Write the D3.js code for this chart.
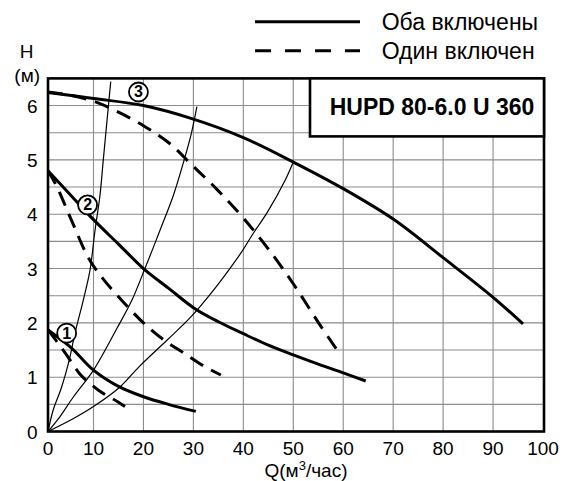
<!DOCTYPE html>
<html><head><meta charset="utf-8">
<script src="https://cdn.jsdelivr.net/npm/d3@7"></script>
<style>
html,body{margin:0;padding:0;background:#fff;}
svg{display:block;font-family:"Liberation Sans",Arial,Helvetica,sans-serif;}
</style></head>
<body><svg id="c" width="564" height="481"></svg>
<script>
// ---- data ----
const xTicks = [0,10,20,30,40,50,60,70,80,90,100];
const yTicks = [0,1,2,3,4,5,6];
const gridX = [10,20,30,40,50,60,70,80,90];
const gridY = [0.5,1,1.5,2,2.5,3,3.5,4,4.5,5,5.5,6];

// "Оба включены" (both pumps on) – solid
const bothQ1 = [0,5,10,15,20,25,30.5];
const bothH1 = [1.87,1.55,1.13,0.83,0.64,0.5,0.37];
const bothQ2 = [0,5,10,15,20,25,30,35,40,45,50,55,60,64.5];
const bothH2 = [4.8,4.35,3.9,3.45,3.0,2.64,2.28,2.02,1.80,1.59,1.41,1.24,1.08,0.93];
const bothQ3 = [0,10,20,30,40,50,60,70,80,90,96];
const bothH3 = [6.24,6.13,6.0,5.75,5.41,4.96,4.47,3.91,3.2,2.47,1.98];

// "Один включен" (one pump on) – dashed
const oneQ1 = [0,2,4,7,11,15,16.3];
const oneH1 = [1.87,1.65,1.42,1.06,0.76,0.54,0.46];
const oneQ2 = [0,2,5,9,12,16,20,24,28,32,35.5];
const oneH2 = [4.8,4.5,3.92,3.18,2.8,2.38,2.0,1.69,1.45,1.21,1.04];
const oneQ3 = [0,5,10,15,20,25,30,35,40,45,50,55,59];
const oneH3 = [6.25,6.19,6.08,5.88,5.63,5.32,4.88,4.43,3.93,3.36,2.72,2.01,1.47];

// system curves (thin)
const sysQA = [0,1.16,3.0,4.68,5.93,7.76,9.23,10.3,11.3,11.96,13.45];
const sysHA = [0,0.4,0.82,1.32,1.81,2.42,2.97,3.7,4.35,5.0,6.44];
const sysQB = [0,2.6,5.6,10,14.7,17.7,20.3,23.3,26,28,29.5,30.7];
const sysHB = [0,0.27,0.64,1.13,1.9,2.42,3.0,3.7,4.35,4.95,5.45,5.98];
const sysQC = [0,5.6,10,15.3,19.2,24.7,29.4,34,37.3,39.7,42,44.7,48.4,50];
const sysHC = [0,0.24,0.46,0.82,1.2,1.68,2.1,2.6,3.0,3.31,3.65,4.02,4.63,4.96];

const markLabels = ["1","2","3"];
const markQ = [4.1,8.7,19.0];
const markH = [1.81,4.17,6.25];

const titleText = "HUPD 80-6.0 U 360";
const legendLabels = ["Оба включены","Один включен"];
const yLabel = ["H","(м)"];

// ---- drawing ----
const svg = d3.select("#c");
const x = d3.scaleLinear().domain([0,10,100]).range([48,93.5,543]);
const y = d3.scaleLinear().domain([0,6.5]).range([431.5,78.4]);

const zip = (q,h)=>q.map((v,i)=>[v,h[i]]);
const line = d3.line().x(d=>x(d[0])).y(d=>y(d[1])).curve(d3.curveCatmullRom.alpha(0.5));

// grid
const gridPath = d3.path();
gridX.forEach(v=>{ gridPath.moveTo(x(v), y(0)); gridPath.lineTo(x(v), y(6.5)); });
gridY.forEach(v=>{ gridPath.moveTo(x(0), y(v)); gridPath.lineTo(x(100), y(v)); });
svg.append("path").attr("d", gridPath.toString())
  .attr("fill","none").attr("stroke","#8c8c8c").attr("stroke-width",1.1);

// system curves
[[sysQA,sysHA],[sysQB,sysHB],[sysQC,sysHC]].forEach(([q,h])=>{
  svg.append("path").attr("d",line(zip(q,h))).attr("fill","none")
    .attr("stroke","#000").attr("stroke-width",1.2);
});
// dashed curves
[[oneQ1,oneH1],[oneQ2,oneH2],[oneQ3,oneH3]].forEach(([q,h])=>{
  svg.append("path").attr("d",line(zip(q,h))).attr("fill","none")
    .attr("stroke","#000").attr("stroke-width",3).attr("stroke-dasharray","15,9");
});
// solid curves
[[bothQ1,bothH1],[bothQ2,bothH2],[bothQ3,bothH3]].forEach(([q,h])=>{
  svg.append("path").attr("d",line(zip(q,h))).attr("fill","none")
    .attr("stroke","#000").attr("stroke-width",3);
});

// frame
svg.append("rect").attr("x",x(0)).attr("y",y(6.5)).attr("width",x(100)+1-x(0)).attr("height",y(0)-y(6.5))
  .attr("fill","none").attr("stroke","#000").attr("stroke-width",2.6);

// title box
svg.append("rect").attr("x",310).attr("y",y(6.5)).attr("width",x(100)+1-310).attr("height",58)
  .attr("fill","#fff").attr("stroke","#000").attr("stroke-width",2.6);
svg.append("text").attr("x",432).attr("y",115).attr("text-anchor","middle")
  .attr("font-size",23).attr("font-weight","bold").text(titleText);

// circled markers
markLabels.forEach((t,i)=>{
  const cx=x(markQ[i]), cy=y(markH[i]);
  svg.append("circle").attr("cx",cx).attr("cy",cy).attr("r",9.5)
    .attr("fill","#fff").attr("stroke","#000").attr("stroke-width",1.8);
  svg.append("text").attr("x",cx).attr("y",cy+5.5).attr("text-anchor","middle")
    .attr("font-size",16).attr("font-weight","bold").text(t);
});

// axes labels
svg.selectAll(".yt").data(yTicks).join("text").attr("class","yt")
  .attr("x",37.5).attr("y",d=>y(d)).attr("dy","0.37em").attr("text-anchor","end")
  .attr("font-size",19).text(d=>d);
svg.selectAll(".xt").data(xTicks).join("text").attr("class","xt")
  .attr("x",d=>x(d)).attr("y",455).attr("text-anchor","middle")
  .attr("font-size",19).text(d=>d);

const ql = svg.append("text").attr("x",306).attr("y",476.5).attr("text-anchor","middle").attr("font-size",19);
ql.append("tspan").text("Q(м");
ql.append("tspan").attr("dy",-7).attr("font-size",13).text("3");
ql.append("tspan").attr("dy",7).text("/час)");

svg.append("text").attr("x",26.7).attr("y",58.3).attr("text-anchor","middle").attr("font-size",19).text(yLabel[0]);
svg.append("text").attr("x",27.2).attr("y",82).attr("text-anchor","middle").attr("font-size",19).text(yLabel[1]);

// legend
const legY = [21.7,50.7];
legendLabels.forEach((t,i)=>{
  svg.append("line").attr("x1",255).attr("x2",360).attr("y1",legY[i]).attr("y2",legY[i])
    .attr("stroke","#000").attr("stroke-width",3)
    .attr("stroke-dasharray", i===1 ? "16,14" : null);
  svg.append("text").attr("x",381.7).attr("y",legY[i]+7.8).attr("font-size",23).text(t);
});
</script></body></html>
